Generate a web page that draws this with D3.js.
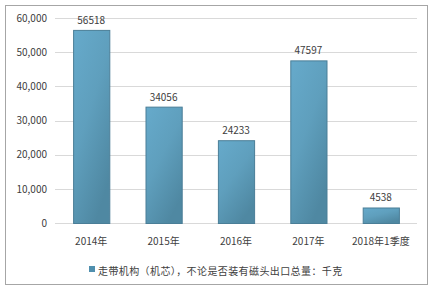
<!DOCTYPE html>
<html><head><meta charset="utf-8">
<script src="https://cdn.jsdelivr.net/npm/d3@7"></script>
<style>body{margin:0;background:#fff;}svg{display:block;}</style>
</head><body>
<script>
const categories = ["2014年","2015年","2016年","2017年","2018年1季度"];
const values = [56518, 34056, 24233, 47597, 4538];
const yTicks = [0,10000,20000,30000,40000,50000,60000];
const seriesName = "走带机构（机芯），不论是否装有磁头出口总量：千克";

(function(){
const W=433,H=293;
const svg=d3.select("body").append("svg").attr("width",W).attr("height",H);
const font="'Microsoft YaHei','Noto Sans CJK SC',sans-serif";

const defs=svg.append("defs");
const g1=defs.append("linearGradient").attr("id","bg").attr("x1","0").attr("y1","0").attr("x2","0.6").attr("y2","1");
g1.append("stop").attr("offset","0").attr("stop-color","#66aacb");
g1.append("stop").attr("offset","0.5").attr("stop-color","#5f9fbd");
g1.append("stop").attr("offset","1").attr("stop-color","#4f88a2");

svg.append("rect").attr("x",5.5).attr("y",5.5).attr("width",422).attr("height",279)
  .attr("fill","#fff").attr("stroke","#a6a6a6").attr("stroke-width",1);

const pLeft=55,pRight=417,pTop=18,pBottom=223;
const x=d3.scaleBand().domain(categories).range([pLeft,pRight]).paddingInner(0.5).paddingOuter(0.25);
const y=d3.scaleLinear().domain([0,60000]).range([pBottom,pTop]);

svg.append("g").selectAll("line").data(yTicks).join("line")
  .attr("x1",pLeft).attr("x2",pRight)
  .attr("y1",d=>Math.round(y(d))+0.5).attr("y2",d=>Math.round(y(d))+0.5)
  .attr("stroke","#d9d9d9").attr("stroke-width",1);

const yAxis=svg.append("g").attr("transform",`translate(${pLeft},0)`)
  .call(d3.axisLeft(y).tickValues(yTicks).tickFormat(d3.format(",")).tickSize(0).tickPadding(8));
yAxis.select(".domain").remove();
yAxis.selectAll("text").attr("font-family",font).attr("font-size",10).attr("fill","#404040");

const xAxis=svg.append("g").attr("transform",`translate(0,${pBottom})`)
  .call(d3.axisBottom(x).tickSize(0).tickPadding(15));
xAxis.select(".domain").remove();
xAxis.selectAll("text").attr("font-family",font).attr("font-size",10).attr("fill","#404040");

svg.append("g").selectAll("rect").data(values).join("rect")
  .attr("x",(d,i)=>x(categories[i])+0.5).attr("width",x.bandwidth())
  .attr("y",d=>y(d)+0.5).attr("height",d=>pBottom-y(d))
  .attr("fill","url(#bg)").attr("stroke","#4a7e97").attr("stroke-width",1);

svg.append("g").selectAll("text").data(values).join("text")
  .attr("x",(d,i)=>x(categories[i])+x.bandwidth()/2).attr("y",d=>y(d)-6)
  .attr("text-anchor","middle").attr("font-family",font).attr("font-size",10).attr("fill","#404040")
  .text(d=>d);

const leg=svg.append("g");
leg.append("rect").attr("x",89).attr("y",266).attr("width",6).attr("height",6).attr("fill","#4f8fae");
leg.append("text").attr("x",98).attr("y",274.5).attr("font-family",font).attr("font-size",10)
  .attr("letter-spacing",0.4).attr("fill","#404040").text(seriesName);
})();
</script>
</body></html>
